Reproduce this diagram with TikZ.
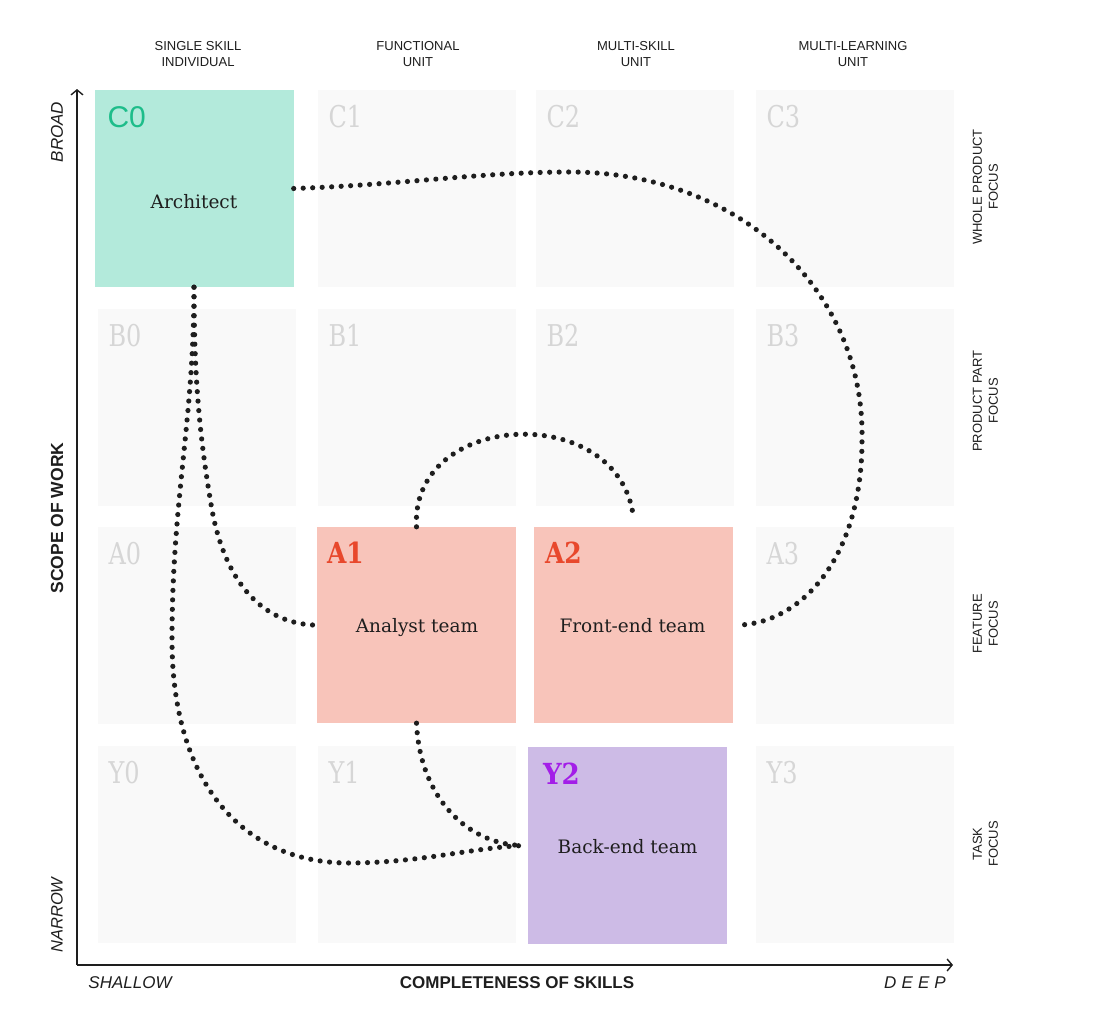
\documentclass[tikz,border=0pt]{standalone}
\usepackage{fontspec}
\setmainfont{DejaVu Serif}
\newfontfamily\sansf{Liberation Sans}
\usetikzlibrary{arrows.meta,calc}
\definecolor{cellgray}{HTML}{F9F9F9}
\definecolor{lblgray}{HTML}{D6D6D6}
\definecolor{cgreen}{HTML}{B3EADB}
\definecolor{cgreentext}{HTML}{1DBD8A}
\definecolor{cred}{HTML}{F8C4BA}
\definecolor{credtext}{HTML}{E8482C}
\definecolor{cpurple}{HTML}{CDBBE6}
\definecolor{cpurpletext}{HTML}{A31EE8}
\definecolor{txt}{HTML}{1E1E1E}
\begin{document}
\begin{tikzpicture}[x=1pt,y=-1pt,
  cell/.style={fill=cellgray,draw=none,minimum width=198pt,minimum height=197pt,inner sep=0pt},
  box/.style={draw=none,minimum width=199pt,minimum height=197pt,inner sep=0pt},
  graylbl/.style={anchor=base west,inner sep=0pt,text=lblgray,font=\fontsize{30}{30}\selectfont},
  boldlbl/.style={anchor=base west,inner sep=0pt,font=\fontsize{29}{29}\selectfont\bfseries},
  boxtext/.style={anchor=base,inner sep=0pt,text=txt,font=\fontsize{18.5}{22}\selectfont},
  header/.style={align=center,inner sep=0pt,text=txt,font=\sansf\fontsize{13}{16}\selectfont},
  axislbl/.style={inner sep=0pt,text=txt,font=\sansf\fontsize{17}{20}\selectfont},
  axisline/.style={line width=1.5pt,txt,-{Straight Barb[length=5pt,width=12pt,line width=1.4pt]}},
  dots/.style={line width=5.2pt,line cap=round,dash pattern=on 0pt off 9.5pt,txt}
]
\useasboundingbox (0,0) rectangle (1100,1031);
\fill[white] (0,0) rectangle (1100,1031);

% gray cells
\node[cell] (C1) at (416.5,188.5) {};
\node[cell] (C2) at (634.5,188.5) {};
\node[cell] (C3) at (854.5,188.5) {};
\node[cell] (B0) at (196.5,407) {};
\node[cell] (B1) at (416.5,407) {};
\node[cell] (B2) at (634.5,407) {};
\node[cell] (B3) at (854.5,407) {};
\node[cell] (A0) at (196.5,625) {};
\node[cell] (A3) at (854.5,625) {};
\node[cell] (Y0) at (196.5,844.5) {};
\node[cell] (Y1) at (416.5,844.5) {};
\node[cell] (Y3) at (854.5,844.5) {};

% coloured boxes
\node[box,fill=cgreen] (C0) at (194,188.5) {};
\node[box,fill=cred,minimum height=196pt] (A1) at (416.5,625) {};
\node[box,fill=cred,minimum height=196pt] (A2) at (633.5,625) {};
\node[box,fill=cpurple] (Y2) at (627.5,845.5) {};

% gray labels
\foreach \c in {C1,C2,C3,B0,B1,B2,B3,A0,A3,Y0,Y1,Y3}{
  \node[graylbl] (lbl\c) at ($(\c.north west)+(11,38)$) {\scalebox{0.8}[1]{\c}};
}
% coloured labels
\node[anchor=base west,inner sep=0pt,text=cgreentext,font=\sansf\fontsize{30}{30}\selectfont] (lblC0) at ($(C0.north west)+(13,38)$) {C0};
\node[boldlbl,text=credtext] (lblA1) at ($(A1.north west)+(10,37)$) {\scalebox{0.86}[1]{A1}};
\node[boldlbl,text=credtext] (lblA2) at ($(A2.north west)+(11,37)$) {\scalebox{0.86}[1]{A2}};
\node[boldlbl,text=cpurpletext] (lblY2) at ($(Y2.north west)+(15,38)$) {\scalebox{0.9}[1]{Y2}};

% box texts
\node[boxtext] (tArch) at (194,208) {Architect};
\node[boxtext] (tAn) at (417,632) {Analyst team};
\node[boxtext] (tFr) at (632.5,632) {Front-end team};
\node[boxtext] (tBk) at (627.5,853) {Back-end team};

% headers
\node[header] (h0) at (198,54) {SINGLE SKILL\\INDIVIDUAL};
\node[header] (h1) at (418,54) {FUNCTIONAL\\UNIT};
\node[header] (h2) at (636,54) {MULTI-SKILL\\UNIT};
\node[header] (h3) at (853,54) {MULTI-LEARNING\\UNIT};

\node[header,rotate=90] (r0) at (985.5,187) {WHOLE PRODUCT\\FOCUS};
\node[header,rotate=90] (r1) at (985.5,401) {PRODUCT PART\\FOCUS};
\node[header,rotate=90] (r2) at (985.5,624) {FEATURE\\FOCUS};
\node[header,rotate=90] (r3) at (985.5,844) {TASK\\FOCUS};

% axes
\coordinate (O) at (77,965);
\coordinate (ytip) at (77,89);
\coordinate (xtip) at (953,965);
\draw[axisline] (O) -- (ytip);
\draw[axisline] (O) -- (xtip);

\node[axislbl,rotate=90,font=\sansf\itshape\fontsize{17}{20}\selectfont] (broad) at (57,132) {BROAD};
\node[axislbl,rotate=90,font=\sansf\bfseries\fontsize{17.5}{20}\selectfont] (scope) at (57,518) {SCOPE OF WORK};
\node[axislbl,rotate=90,font=\sansf\itshape\fontsize{16.5}{20}\selectfont] (narrow) at (57,915) {NARROW};
\node[axislbl,font=\sansf\itshape\fontsize{17}{20}\selectfont] (shallow) at (130,983) {SHALLOW};
\node[axislbl,font=\sansf\bfseries\fontsize{17}{20}\selectfont] (compl) at (517,983) {COMPLETENESS OF SKILLS};
\node[axislbl,font=\sansf\itshape\fontsize{17}{20}\selectfont\addfontfeature{LetterSpace=30}] (deep) at (915,983) {DEEP};

% dotted connectors
\draw[dots] (C0.east) .. controls (400,185) and (480,172) .. (570,172)
  .. controls (740,172) and (865,290) .. (862,440)
  .. controls (862,560) and (800,622) .. ([xshift=7pt]A2.east);
\draw[dots] (C0.south) .. controls (194,380) and (200,440) .. (212,510)
  .. controls (225,580) and (260,622) .. ([xshift=-4pt]A1.west);
\draw[dots] (C0.south) .. controls (194,420) and (172,500) .. (172,640)
  .. controls (172,780) and (240,862) .. (347,863)
  .. controls (420,863) and (470,848) .. ([xshift=-5pt]Y2.west);
\draw[dots] (A1.south) .. controls (420,800) and (470,845) .. ([xshift=-5pt]Y2.west);
\draw[dots] (A1.north) .. controls (410,410) and (620,400) .. ([yshift=9pt]A2.north);
\end{tikzpicture}
\end{document}
